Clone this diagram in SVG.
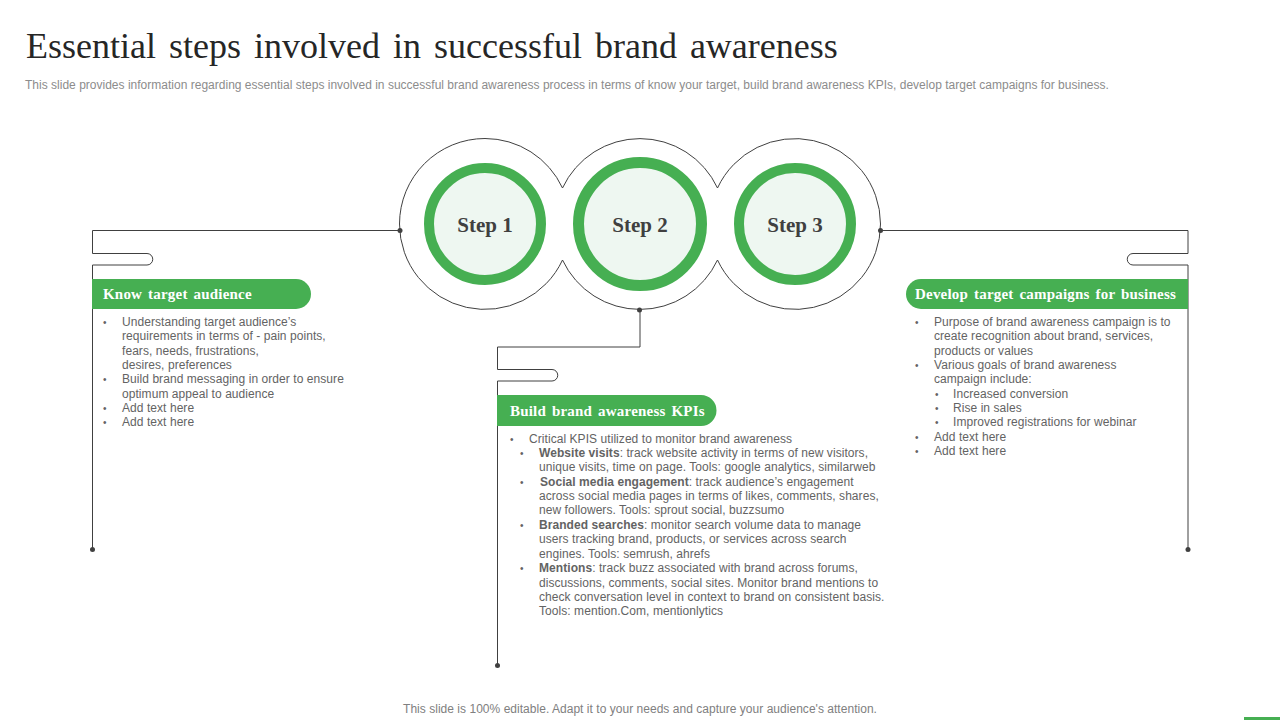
<svg xmlns="http://www.w3.org/2000/svg" width="1280" height="720" viewBox="0 0 1280 720">
<style>
.title{font:36px "Liberation Serif",serif;fill:#262626;word-spacing:4px}
.sub{font:12px "Liberation Sans",Arial,sans-serif;fill:#8c8c8c;letter-spacing:.01px}
.foot{font:12px "Liberation Sans",Arial,sans-serif;fill:#808080;letter-spacing:.03px}
.b{font:12px "Liberation Sans",Arial,sans-serif;fill:#636363;letter-spacing:.06px}
.u{font:10px "Liberation Sans",Arial,sans-serif;fill:#636363}
.s{font-weight:bold}
.h{font:bold 15px "Liberation Serif",serif;fill:#fff;word-spacing:2px;letter-spacing:.2px}
.st{font:bold 21px "Liberation Serif",serif;fill:#404040;text-anchor:middle}
.ln{fill:none;stroke:#404040;stroke-width:1}
.dot{fill:#404040}
.ring{fill:#eef7f1;stroke:#46af52}
.pill{fill:#46af52}
</style>
<rect width="1280" height="720" fill="#fff"/>
<text class="title" x="26" y="58">Essential steps involved in successful brand awareness</text>
<text class="sub" x="25" y="89">This slide provides information regarding essential steps involved in successful brand awareness process in terms of know your target,  build brand awareness KPIs, develop target campaigns for business.</text>
<g id="connectors">
<path class="ln" d="M485 138.500A85.500 85.500 0 0 1 562.500 188A85.500 85.500 0 0 1 717.500 188A85.500 85.500 0 0 1 880.500 224A85.500 85.500 0 0 1 717.500 260A85.500 85.500 0 0 1 562.500 260A85.500 85.500 0 0 1 399.500 224A85.500 85.500 0 0 1 485 138.500Z"/>
<path class="ln" d="M400 230.500H92.500V253.500H147A5.750 5.750 0 0 1 147 265H92.500V549.500"/>
<path class="ln" d="M640 310V347H497.500V369.500H552A5.750 5.750 0 0 1 552 381H497.500V665.500"/>
<path class="ln" d="M880 230.500H1188V253.500H1133A5.750 5.750 0 0 0 1133 265H1188V549.500"/>
<circle class="dot" cx="400" cy="230.500" r="2.500"/><circle class="dot" cx="880.500" cy="230.500" r="2.500"/><circle class="dot" cx="639.500" cy="310" r="2.500"/>
<circle class="dot" cx="92.500" cy="549.500" r="2.500"/><circle class="dot" cx="497.500" cy="665.500" r="2.500"/><circle class="dot" cx="1188" cy="549.500" r="2.500"/>
</g>
<g id="step1"><circle class="ring" cx="485" cy="224" r="56" stroke-width="10"/><text class="st" x="485" y="232">Step 1</text></g>
<g id="step2"><circle class="ring" cx="640" cy="224" r="61.500" stroke-width="11"/><text class="st" x="640" y="232">Step 2</text></g>
<g id="step3"><circle class="ring" cx="795" cy="224" r="56" stroke-width="10"/><text class="st" x="795" y="232">Step 3</text></g>
<g id="know-target-audience">
<path class="pill" d="M92 279H296A15 15 0 0 1 296 309H92Z"/>
<text class="h" x="103" y="299">Know target audience</text>
<text class="u" x="103" y="326">•</text><text class="b" x="122" y="326">Understanding target audience’s</text>
<text class="b" x="122" y="340">requirements in terms of - pain points,</text>
<text class="b" x="122" y="355">fears, needs, frustrations,</text>
<text class="b" x="122" y="369">desires, preferences</text>
<text class="u" x="103" y="383">•</text><text class="b" x="122" y="383">Build brand messaging in order to ensure</text>
<text class="b" x="122" y="398">optimum appeal to audience</text>
<text class="u" x="103" y="412">•</text><text class="b" x="122" y="412">Add text here</text>
<text class="u" x="103" y="426">•</text><text class="b" x="122" y="426">Add text here</text>
</g>
<g id="build-brand-awareness-kpis">
<path class="pill" d="M497 395H701A15.500 15.500 0 0 1 701 426H497Z"/>
<text class="h" x="510" y="416">Build brand  awareness KPIs</text>
<text class="u" x="510" y="443">•</text><text class="b" x="529" y="443">Critical KPIS  utilized to  monitor brand awareness</text>
<text class="u" x="520" y="457">•</text><text class="b" x="539" y="457"><tspan class="s">Website visits</tspan>:  track website activity  in terms of new visitors,</text>
<text class="b" x="539" y="471">unique visits, time on page. Tools: google analytics, similarweb</text>
<text class="u" x="520" y="486">•</text><text class="b" x="540" y="486"><tspan class="s">Social media engagement</tspan>: track audience’s engagement</text>
<text class="b" x="539" y="500">across social media pages in terms of likes, comments, shares,</text>
<text class="b" x="539" y="514">new followers. Tools: sprout social, buzzsumo</text>
<text class="u" x="520" y="529">•</text><text class="b" x="539" y="529"><tspan class="s">Branded searches</tspan>: monitor search volume data to manage</text>
<text class="b" x="539" y="543">users tracking brand, products, or services across search</text>
<text class="b" x="539" y="558">engines. Tools: semrush, ahrefs</text>
<text class="u" x="520" y="572">•</text><text class="b" x="539" y="572"><tspan class="s">Mentions</tspan>:  track buzz  associated with brand across forums,</text>
<text class="b" x="539" y="587">discussions, comments, social sites. Monitor brand mentions to</text>
<text class="b" x="539" y="601">check conversation level in context to brand on consistent basis.</text>
<text class="b" x="539" y="615">Tools: mention.Com, mentionlytics</text>
</g>
<g id="develop-target-campaigns">
<path class="pill" d="M1188 279H921A15 15 0 0 0 921 309H1188Z"/>
<text class="h" x="915" y="299">Develop target campaigns  for business</text>
<text class="u" x="915" y="326">•</text><text class="b" x="934" y="326">Purpose of brand awareness campaign is to</text>
<text class="b" x="934" y="340">create recognition about brand, services,</text>
<text class="b" x="934" y="355">products or values</text>
<text class="u" x="915" y="369">•</text><text class="b" x="934" y="369">Various goals of brand awareness</text>
<text class="b" x="934" y="383">campaign include:</text>
<text class="u" x="935" y="398">•</text><text class="b" x="953" y="398">Increased conversion</text>
<text class="u" x="935" y="412">•</text><text class="b" x="953" y="412">Rise in sales</text>
<text class="u" x="935" y="426">•</text><text class="b" x="953" y="426">Improved registrations for webinar</text>
<text class="u" x="915" y="441">•</text><text class="b" x="934" y="441">Add text here</text>
<text class="u" x="915" y="455">•</text><text class="b" x="934" y="455">Add text here</text>
</g>
<text class="foot" x="640" y="713" text-anchor="middle">This slide is 100% editable. Adapt it to your needs and capture your audience's attention.</text>
<rect x="1244" y="717" width="36" height="3" fill="#46af52"/>
</svg>
